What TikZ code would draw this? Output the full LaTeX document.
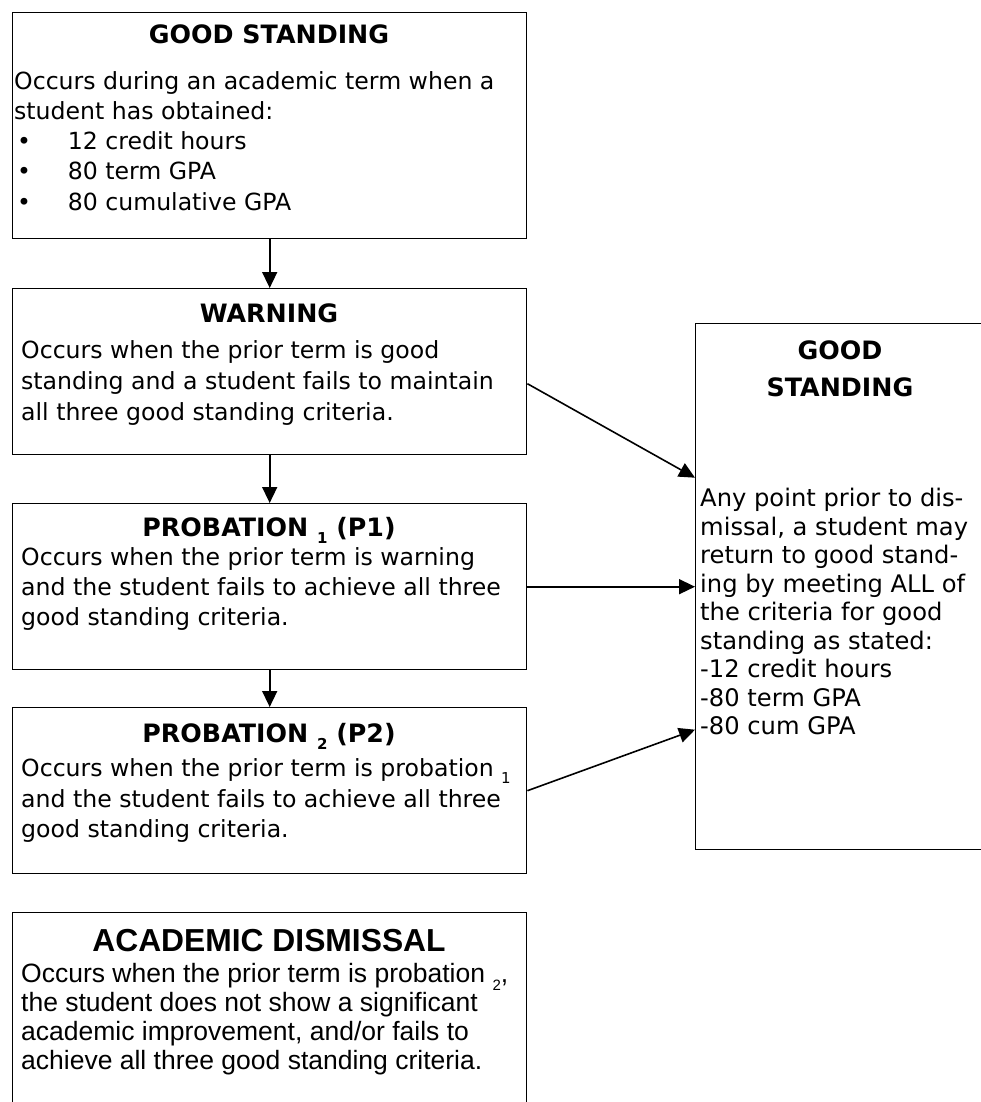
\documentclass[tikz,border=0pt]{standalone}
\usepackage{fontspec}
\setmainfont{DejaVu Sans}
\newfontfamily\arialfont{Liberation Sans}
\usetikzlibrary{arrows.meta}

\tikzset{
  stage/.style={draw, line width=1.4pt, rectangle, anchor=north west, inner sep=0pt},
  title/.style={inner sep=0pt, anchor=base, align=center, font=\bfseries\fontsize{25.3}{37}\selectfont},
  body/.style={inner sep=0pt, anchor=base west, align=left, font=\fontsize{23.6}{30}\selectfont},
  link/.style={line width=1.6pt, -{Triangle[length=16pt,width=15pt]}},
}
\newcommand{\lowsub}[1]{\raisebox{-0.3em}{\fontsize{15}{15}\selectfont #1}}
\newcommand{\bul}{\makebox[53.6pt][l]{\hspace{3pt}•}}

\begin{document}
\begin{tikzpicture}[x=1pt,y=-1pt]
  \useasboundingbox (0,0) rectangle (981,1102);
  \fill[white] (0,0) rectangle (981,1102);
  \clip (0,0) rectangle (981,1102);
  % boxes
  \node[stage, minimum width=514pt, minimum height=226pt] (gs) at (12,12) {};
  \node[stage, minimum width=514pt, minimum height=166pt] (warn) at (12,288) {};
  \node[stage, minimum width=514pt, minimum height=166pt] (pone) at (12,503) {};
  \node[stage, minimum width=514pt, minimum height=166pt] (ptwo) at (12,707) {};
  \node[stage, minimum width=514pt, minimum height=230pt] (dism) at (12,912) {};
  \node[stage, minimum width=300pt, minimum height=526pt] (back) at (695,323) {};
  % texts (base = last line)
  \node[title] (gst) at (269,44) {GOOD STANDING};
  \node[body] (gsb) at (14,210) {Occurs during an academic term when a\\student has obtained:\\\bul 12 credit hours\\\bul 80 term GPA\\\bul 80 cumulative GPA};
  \node[title] (warnt) at (269,322) {WARNING};
  \node[body, font=\fontsize{23.6}{31}\selectfont] (warnb) at (21,420.6) {Occurs when the prior term is good\\standing and a student fails to maintain\\all three good standing criteria.};
  \node[title] (ponet) at (269,536) {PROBATION \lowsub{1} (P1)};
  \node[body] (poneb) at (21,625.6) {Occurs when the prior term is warning\\and the student fails to achieve all three\\good standing criteria.};
  \node[title] (ptwot) at (269,742) {PROBATION \lowsub{2} (P2)};
  \node[body, font=\fontsize{23.6}{30.5}\selectfont] (ptwob) at (21,837.6) {Occurs when the prior term is probation \lowsub{1}\\and the student fails to achieve all three\\good standing criteria.};
  \node[title, font=\arialfont\bfseries\fontsize{31.8}{36}\selectfont] (dismt) at (269,951.4) {ACADEMIC DISMISSAL};
  \node[body, font=\arialfont\fontsize{26.5}{29}\selectfont] (dismb) at (21,1069.5) {Occurs when the prior term is probation \lowsub{2},\\the student does not show a significant\\academic improvement, and/or fails to\\achieve all three good standing criteria.};
  \node[title] (backt) at (840,396.2) {GOOD\\STANDING};
  \node[body, font=\fontsize{24.2}{28.5}\selectfont] (backb) at (700,734.6) {Any point prior to dis-\\missal, a student may\\return to good stand-\\ing by meeting ALL of\\the criteria for good\\standing as stated:\\-12 credit hours\\-80 term GPA\\-80 cum GPA};
  % arrows
  \draw[link] (gs.south) -- (warn.north);
  \draw[link] (warn.south) -- (pone.north);
  \draw[link] (pone.south) -- (ptwo.north);
  \draw[link] ([yshift=-12pt]warn.east) -- ([yshift=109pt]back.west);
  \draw[link] (pone.east) -- (back.west);
  \draw[link] (ptwo.east) -- ([yshift=-143pt]back.west);
\end{tikzpicture}
\end{document}
